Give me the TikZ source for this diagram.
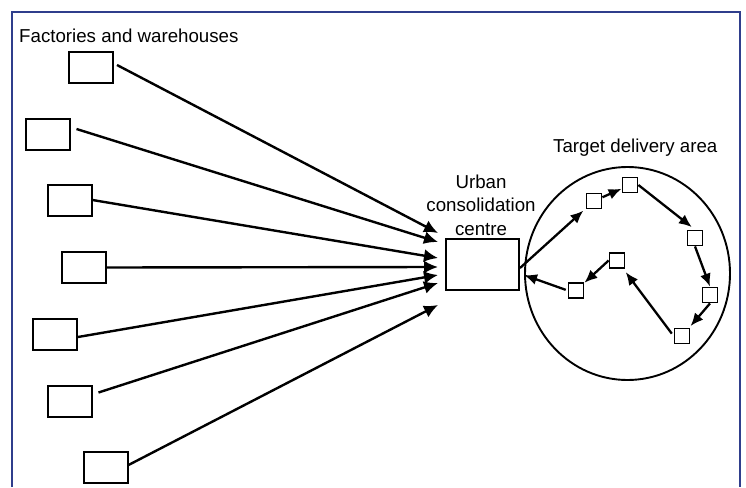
\documentclass[tikz,border=0pt]{standalone}
\usepackage{fontspec}
\setmainfont{Liberation Sans}
\usetikzlibrary{arrows.meta,shapes.geometric}
\definecolor{frameblue}{RGB}{47,62,140}
\tikzset{
  lbl/.style={font=\fontsize{18.7}{23.5}\selectfont, inner sep=0pt},
  site/.style={draw, line width=2pt, minimum width=44pt, minimum height=31pt, inner sep=0pt},
  stop/.style={draw, line width=1.8pt, minimum width=15pt, minimum height=15pt, inner sep=0pt},
  hub/.style={draw, line width=2pt, minimum width=73pt, minimum height=51pt, inner sep=0pt},
  flow/.style={line width=2.4pt, -{Latex[length=14pt,width=13pt]}},
  route/.style={line width=2.3pt, -{Latex[length=13pt,width=11pt]}}
}
\begin{document}
\begin{tikzpicture}[x=1pt,y=-1pt]
\useasboundingbox (0,0) rectangle (746,487);
% frame (open at the bottom)
\draw[frameblue, line width=2.6pt] (12,487) -- (12,12) -- (740,12) -- (740,487);

% labels
\node[lbl, anchor=base west] (lfac) at (19,43) {Factories and warehouses};
\node[lbl, anchor=base west] (larea) at (553,152) {Target delivery area};
\node[lbl, anchor=base, align=center] (lucc) at (481,235) {Urban\\consolidation\\centre};

% factories and warehouses
\node[site] (f1) at (91,67.5) {};
\node[site] (f2) at (47.5,134) {};
\node[site] (f3) at (69.5,200) {};
\node[site] (f4) at (84,267.5) {};
\node[site] (f5) at (55,334) {};
\node[site] (f6) at (69.5,401) {};
\node[site] (f7) at (105.5,467.5) {};

% urban consolidation centre
\node[hub] (u) at (482.5,264.5) {};
\coordinate (t1) at (438,233);
\coordinate (t2) at (438,242);
\coordinate (t3) at (438,258);
\coordinate (t4) at (438,267);
\coordinate (t5) at (438,275);
\coordinate (t6) at (438,283);
\coordinate (t7) at (438,305);

\draw[flow] ([shift={(3,-2.5)}]f1.east) -- (t1);
\draw[flow] ([shift={(6,-5)}]f2.east) -- (t2);
\draw[flow] (f3.east) -- (t3);
\draw[flow] (f4.east) -- (t4);
\draw[flow] ([shift={(0,3)}]f5.east) -- (t5);
\draw[flow] ([shift={(6,8)}]f6.north east) -- (t6);
\draw[flow] ([shift={(0,-2.5)}]f7.east) -- (t7);

% target delivery area
\node[draw, ellipse, line width=1.9pt, minimum width=205pt, minimum height=213pt, inner sep=0pt] (area) at (627.5,273.5) {};

\node[stop] (s1) at (594,201) {};
\node[stop] (s2) at (630,185) {};
\node[stop] (s3) at (695,238) {};
\node[stop] (s4) at (710,295) {};
\node[stop] (s5) at (682,336) {};
\node[stop] (s6) at (617,260.5) {};
\node[stop] (s7) at (576,290.5) {};

\draw[route, shorten >=3pt] ([shift={(0,3.5)}]u.east) -- (s1);
\draw[route] (s1) -- (s2);
\draw[route, shorten >=4pt] (s2.east) -- (s3.north);
\draw[route] (s3.south) -- (s4.north);
\draw[route, shorten >=2pt] (s4.south) -- (s5);
\draw[route, shorten <=3pt, shorten >=4pt] (s5.west) -- (s6);
\draw[route] (s6.west) -- (s7);
\draw[route, shorten <=2pt] (s7.west) -- ([shift={(4,10.5)}]u.east);
\end{tikzpicture}
\end{document}
